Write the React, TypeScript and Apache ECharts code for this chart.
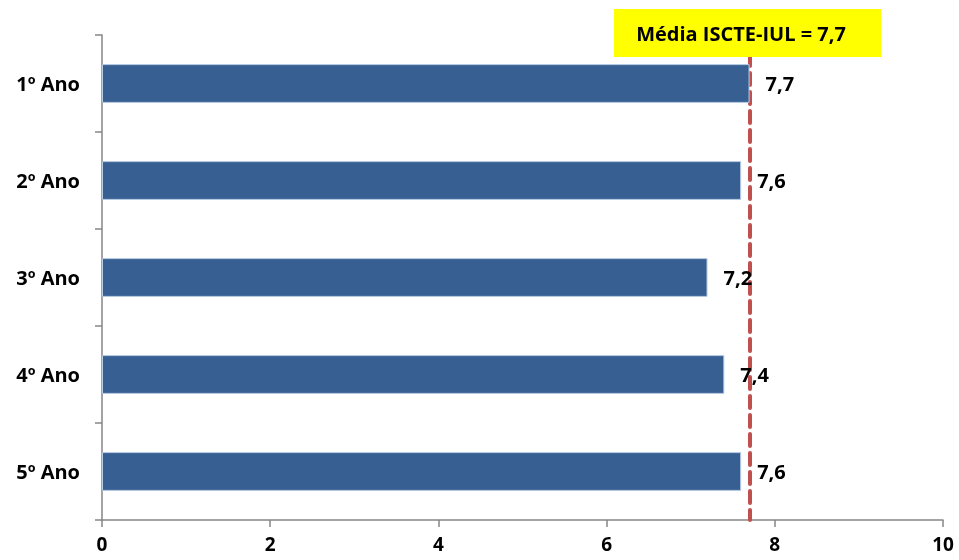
import React, { useEffect, useRef } from "react";
import * as echarts from "echarts";

const categories = ["1º Ano", "2º Ano", "3º Ano", "4º Ano", "5º Ano"];
const values = [7.7, 7.6, 7.2, 7.4, 7.6];
const average = 7.7;
const averageLabel = "Média ISCTE-IUL = 7,7";

const FONT = "'Open Sans', Lato, sans-serif";

export default function App() {
  const ref = useRef<HTMLDivElement>(null);
  useEffect(() => {
    if (!ref.current) return;
    const chart = echarts.init(ref.current, null, { renderer: "svg" });
    chart.setOption({
      animation: false,
      grid: { left: 102, right: 16, top: 35, bottom: 40 },
      xAxis: {
        type: "value",
        min: 0,
        max: 10,
        interval: 2,
        splitLine: { show: false },
        axisLine: { show: true, lineStyle: { color: "#868686", width: 1.5 } },
        axisTick: { show: true, length: 7, lineStyle: { color: "#868686", width: 1.5 } },
        axisLabel: {
          color: "#000",
          fontFamily: FONT,
          fontWeight: "bold",
          fontSize: 19,
          lineHeight: 19,
          margin: 14,
          formatter: (v: number) => String(v),
        },
      },
      yAxis: {
        type: "category",
        data: categories,
        inverse: true,
        axisLine: { show: true, lineStyle: { color: "#868686", width: 1.5 } },
        axisTick: { show: true, length: 7, lineStyle: { color: "#868686", width: 1.5 } },
        axisLabel: {
          color: "#000",
          fontFamily: FONT,
          fontWeight: "bold",
          fontSize: 20,
          margin: 22,
        },
      },
      series: [
        {
          type: "bar",
          data: values,
          barWidth: "40%",
          itemStyle: { color: "#375F92", borderColor: "#B9CDE5", borderWidth: 1 },
          label: {
            show: true,
            position: "right",
            distance: 16,
            color: "#000",
            fontFamily: FONT,
            fontWeight: "bold",
            fontSize: 20,
            formatter: (p: any) => String(p.value).replace(".", ","),
          },
          z: 3,
          markLine: {
            silent: true,
            symbol: "none",
            label: { show: false },
            lineStyle: { color: "#C0504D", width: 4, type: [12, 7], cap: "round" },
            data: [{ xAxis: average }],
            z: 2,
          },
        },
      ],
      graphic: [
        {
          type: "rect",
          shape: { x: 614, y: 9, width: 267, height: 48 },
          style: { fill: "#FFFF00" },
          z: 10,
        },
        {
          type: "text",
          x: 741,
          y: 33,
          style: {
            text: averageLabel,
            fill: "#000",
            font: `bold 20px ${FONT}`,
            align: "center",
            verticalAlign: "middle",
          },
          z: 11,
        },
      ],
    });
    return () => chart.dispose();
  }, []);
  return (
    <div
      ref={ref}
      style={{ position: "fixed", left: 0, top: 0, width: 959, height: 560 }}
    />
  );
}
